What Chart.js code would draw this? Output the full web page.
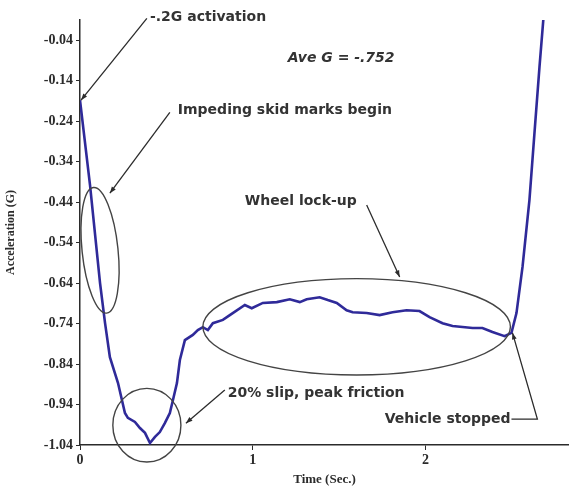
<!DOCTYPE html>
<html>
<head>
<meta charset="utf-8">
<script src="https://cdn.jsdelivr.net/npm/chart.js@4.4.1/dist/chart.umd.min.js"></script>
<style>
  html, body { margin: 0; background: #fff; }
  #wrap { width: 569px; height: 491px; }
</style>
</head>
<body>
<div id="wrap"><canvas id="decel"></canvas></div>
<script>
// braking run: time (s) vs deceleration (G)
const timeSec = [
  0.000, 0.058, 0.116, 0.145, 0.173, 0.220, 0.260, 0.277, 0.318, 0.347,
  0.376, 0.405, 0.434, 0.462, 0.491, 0.520, 0.538, 0.561, 0.578, 0.607,
  0.653, 0.682, 0.711, 0.740, 0.769, 0.827, 0.867, 0.954, 0.994, 1.058,
  1.139, 1.214, 1.272, 1.312, 1.387, 1.434, 1.486, 1.543, 1.578, 1.659,
  1.734, 1.809, 1.890, 1.965, 2.023, 2.098, 2.156, 2.272, 2.329, 2.387,
  2.457, 2.497, 2.526, 2.561, 2.601, 2.630, 2.659, 2.682
];
const accelG = [
  -0.188, -0.398, -0.640, -0.739, -0.823, -0.887, -0.961, -0.973, -0.983, -0.998,
  -1.010, -1.035, -1.020, -1.008, -0.986, -0.961, -0.929, -0.887, -0.830, -0.781,
  -0.768, -0.756, -0.749, -0.756, -0.739, -0.731, -0.719, -0.694, -0.702, -0.689,
  -0.687, -0.680, -0.687, -0.680, -0.675, -0.682, -0.689, -0.707, -0.712, -0.714,
  -0.719, -0.712, -0.707, -0.709, -0.724, -0.739, -0.746, -0.751, -0.751, -0.761,
  -0.771, -0.763, -0.714, -0.600, -0.435, -0.270, -0.107, 0.014
];
const yTickValues = [-1.04, -0.94, -0.84, -0.74, -0.64, -0.54, -0.44, -0.34, -0.24, -0.14, -0.04];
const xTickValues = [0, 1, 2];

// callouts, all in data units
const rings = [
  { x: 0.116, y: -0.559, rx: 0.104, ry: 0.156, rot: -6 },
  { x: 0.387, y: -0.991, rx: 0.197, ry: 0.091, rot: 0 },
  { x: 1.601, y: -0.748, rx: 0.890, ry: 0.119, rot: 0 }
];
const leaders = [
  [[0.387, 0.014], [0.006, -0.188]],
  [[0.520, -0.218], [0.173, -0.418]],
  [[1.659, -0.447], [1.850, -0.625]],
  [[0.838, -0.904], [0.613, -0.986]],
  [[2.497, -0.976], [2.647, -0.976], [2.503, -0.763]]
];
const notes = [
  { text: '-.2G activation', x: 0.405, y: 0.017 },
  { text: 'Ave G = -.752', x: 1.202, y: -0.084, italic: true },
  { text: 'Impeding skid marks begin', x: 0.566, y: -0.213 },
  { text: 'Wheel lock-up', x: 0.954, y: -0.438 },
  { text: '20% slip, peak friction', x: 0.855, y: -0.912 },
  { text: 'Vehicle stopped', x: 1.763, y: -0.976 }
];

const ink = '#2b2b2b';
const noteFont = '"DejaVu Sans", sans-serif';
const serif = '"Liberation Serif", "DejaVu Serif", serif';

const calloutPlugin = {
  id: 'callouts',
  afterDraw(chart) {
    const { ctx, scales: { x, y } } = chart;
    ctx.save();
    ctx.strokeStyle = '#444';
    ctx.lineWidth = 1.4;
    rings.forEach((r) => {
      const cx = x.getPixelForValue(r.x);
      const cy = y.getPixelForValue(r.y);
      const rx = Math.abs(x.getPixelForValue(r.x + r.rx) - cx);
      const ry = Math.abs(y.getPixelForValue(r.y + r.ry) - cy);
      ctx.beginPath();
      ctx.ellipse(cx, cy, rx, ry, (r.rot * Math.PI) / 180, 0, Math.PI * 2);
      ctx.stroke();
    });

    ctx.strokeStyle = ink;
    ctx.fillStyle = ink;
    ctx.lineWidth = 1.3;
    leaders.forEach((path) => {
      const pts = path.map(([a, b]) => [x.getPixelForValue(a), y.getPixelForValue(b)]);
      ctx.beginPath();
      pts.forEach(([px, py], i) => (i ? ctx.lineTo(px, py) : ctx.moveTo(px, py)));
      ctx.stroke();
      // arrowhead at the last point
      const [x1, y1] = pts[pts.length - 2];
      const [x2, y2] = pts[pts.length - 1];
      const ang = Math.atan2(y2 - y1, x2 - x1);
      ctx.beginPath();
      ctx.moveTo(x2, y2);
      ctx.lineTo(x2 - 7 * Math.cos(ang - 0.35), y2 - 7 * Math.sin(ang - 0.35));
      ctx.lineTo(x2 - 7 * Math.cos(ang + 0.35), y2 - 7 * Math.sin(ang + 0.35));
      ctx.closePath();
      ctx.fill();
    });

    ctx.fillStyle = '#333';
    ctx.textBaseline = 'middle';
    ctx.textAlign = 'left';
    notes.forEach((n) => {
      ctx.font = `${n.italic ? 'italic ' : ''}bold 14px ${noteFont}`;
      ctx.fillText(n.text, x.getPixelForValue(n.x), y.getPixelForValue(n.y));
    });
    ctx.restore();
  }
};

new Chart(document.getElementById('decel'), {
  type: 'line',
  data: {
    datasets: [{
      data: timeSec.map((t, i) => ({ x: t, y: accelG[i] })),
      borderColor: '#2f2a99',
      borderWidth: 2.6,
      pointRadius: 0,
      tension: 0,
      fill: false
    }]
  },
  options: {
    responsive: true,
    maintainAspectRatio: false,
    animation: false,
    layout: { padding: { top: 20, right: 0, left: 0, bottom: 0 } },
    plugins: { legend: { display: false }, tooltip: { enabled: false } },
    scales: {
      x: {
        type: 'linear',
        min: 0,
        max: 2.83,
        afterBuildTicks: (s) => { s.ticks = xTickValues.map((v) => ({ value: v })); },
        afterFit: (s) => { s.height = 46; },
        ticks: { color: ink, font: { family: serif, size: 14, weight: 'bold' }, padding: 2, callback: (v) => String(v) },
        grid: { drawOnChartArea: false, tickLength: 5, color: ink },
        border: { color: ink, width: 1.5 },
        title: { display: true, text: 'Time (Sec.)', color: ink, font: { family: serif, size: 13, weight: 'bold' }, padding: { top: 4 } }
      },
      y: {
        min: -1.04,
        max: 0.01,
        afterBuildTicks: (s) => { s.ticks = yTickValues.map((v) => ({ value: v })); },
        afterFit: (s) => { s.width = 80; },
        ticks: { color: ink, font: { family: serif, size: 14, weight: 'bold' }, padding: 3, callback: (v) => v.toFixed(2) },
        grid: { drawOnChartArea: false, tickLength: 4, color: ink },
        border: { color: ink, width: 1.5 },
        title: { display: true, text: 'Acceleration (G)', color: ink, font: { family: serif, size: 12, weight: 'bold' }, padding: { bottom: 2 } }
      }
    }
  },
  plugins: [calloutPlugin]
});
</script>
</body>
</html>
